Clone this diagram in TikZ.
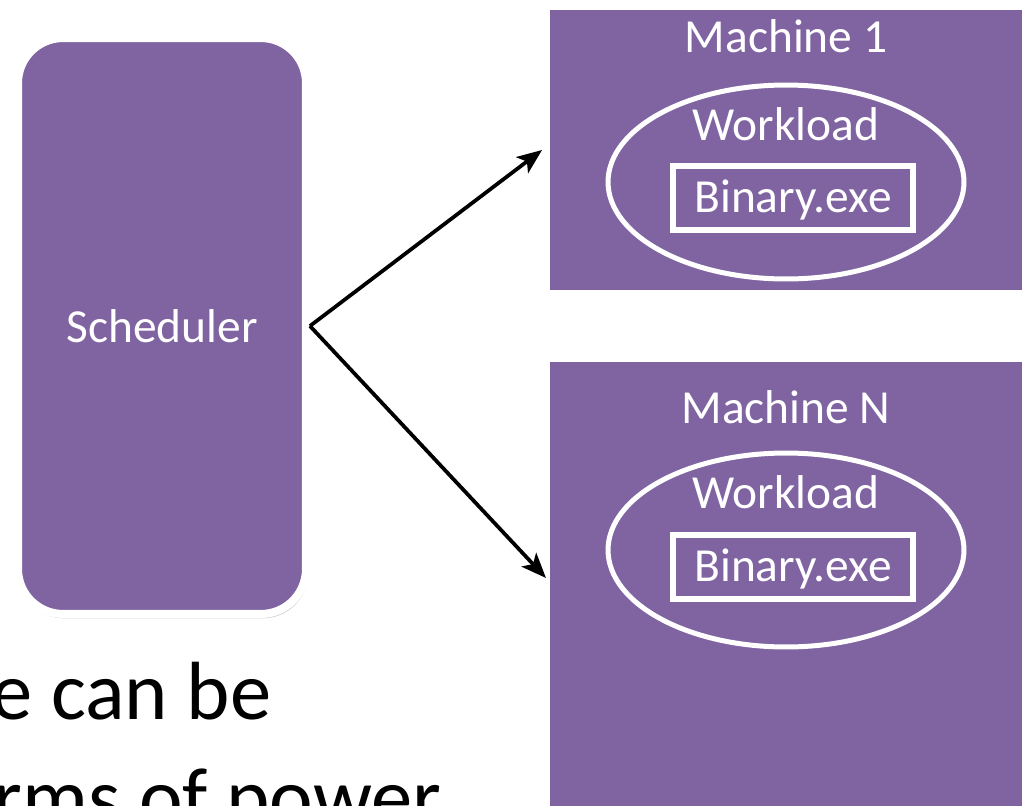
\documentclass[tikz,border=0pt]{standalone}
\usepackage{fontspec}
\setmainfont{Carlito}
\usetikzlibrary{positioning,arrows.meta,shapes.geometric,shadows}
\definecolor{slidepurple}{HTML}{8064A2}

\begin{document}
\begin{tikzpicture}[x=0.02cm,y=-0.02cm,
    schedbox/.style={rectangle,rounded corners=0.9cm,fill=slidepurple,draw=white,line width=0.16cm,
      minimum width=5.76cm,minimum height=11.52cm,inner sep=0pt,
      drop shadow={shadow xshift=0.8pt,shadow yshift=-1.5pt,opacity=0.35,shadow scale=1.006}},
    machbox/.style={rectangle,fill=slidepurple,draw=white,line width=0.16cm,
      minimum width=9.6cm,inner sep=0pt,
      drop shadow={shadow xshift=0.8pt,shadow yshift=-1.5pt,opacity=0.35,shadow scale=1.006}},
    workoval/.style={ellipse,draw=white,line width=0.1cm,minimum width=7.12cm,minimum height=3.88cm,inner sep=0pt},
    binbox/.style={rectangle,draw=white,line width=0.12cm,minimum width=4.82cm,minimum height=1.28cm,inner sep=0pt},
    label/.style={text=white,font=\fontsize{27}{32}\selectfont,anchor=base,inner sep=0pt},
    sendarrow/.style={-{Stealth[length=0.5cm,width=0.4cm,inset=0.12cm]},line width=0.075cm,black}]
  \useasboundingbox (0,0) rectangle (1028,805);
  \clip (0,0) rectangle (1028,805);
  \fill[white] (0,0) rectangle (1028,805);
  % scheduler
  \node[schedbox] (sched) at (162,326) {};
  \node[label] (schedtxt) at (162,342) {Scheduler};
  % machine 1
  \node[machbox,minimum height=5.76cm] (m1) at (786,150) {};
  \node[label] (m1txt) at (786,52) {Machine 1};
  \node[workoval] (wl1) at (786,182) {};
  \node[label] (wl1txt) at (786,140) {Workload};
  \node[binbox] (bin1) at (793,198) {};
  \node[label] (bin1txt) at (793,212) {Binary.exe};
  % machine N
  \node[machbox,minimum height=9.44cm] (mN) at (786,594) {};
  \node[label] (mNtxt) at (786,423) {Machine N};
  \node[workoval] (wlN) at (786,550) {};
  \node[label] (wlNtxt) at (786,508) {Workload};
  \node[binbox] (binN) at (793,567) {};
  \node[label] (binNtxt) at (793,581) {Binary.exe};
  % arrows
  \coordinate (inN) at (546,578);
  \draw[sendarrow] (sched.east) -- (m1.west);
  \draw[sendarrow] (sched.east) -- (inN);
  % cut-off slide text
  \node[anchor=base west,inner sep=0pt,font=\fontsize{47}{56}\selectfont] (line1) at (-9,719) {e can be};
  \node[anchor=base west,inner sep=0pt,font=\fontsize{47}{56}\selectfont] (line2) at (-7,825) {rms of power};
\end{tikzpicture}
\end{document}
